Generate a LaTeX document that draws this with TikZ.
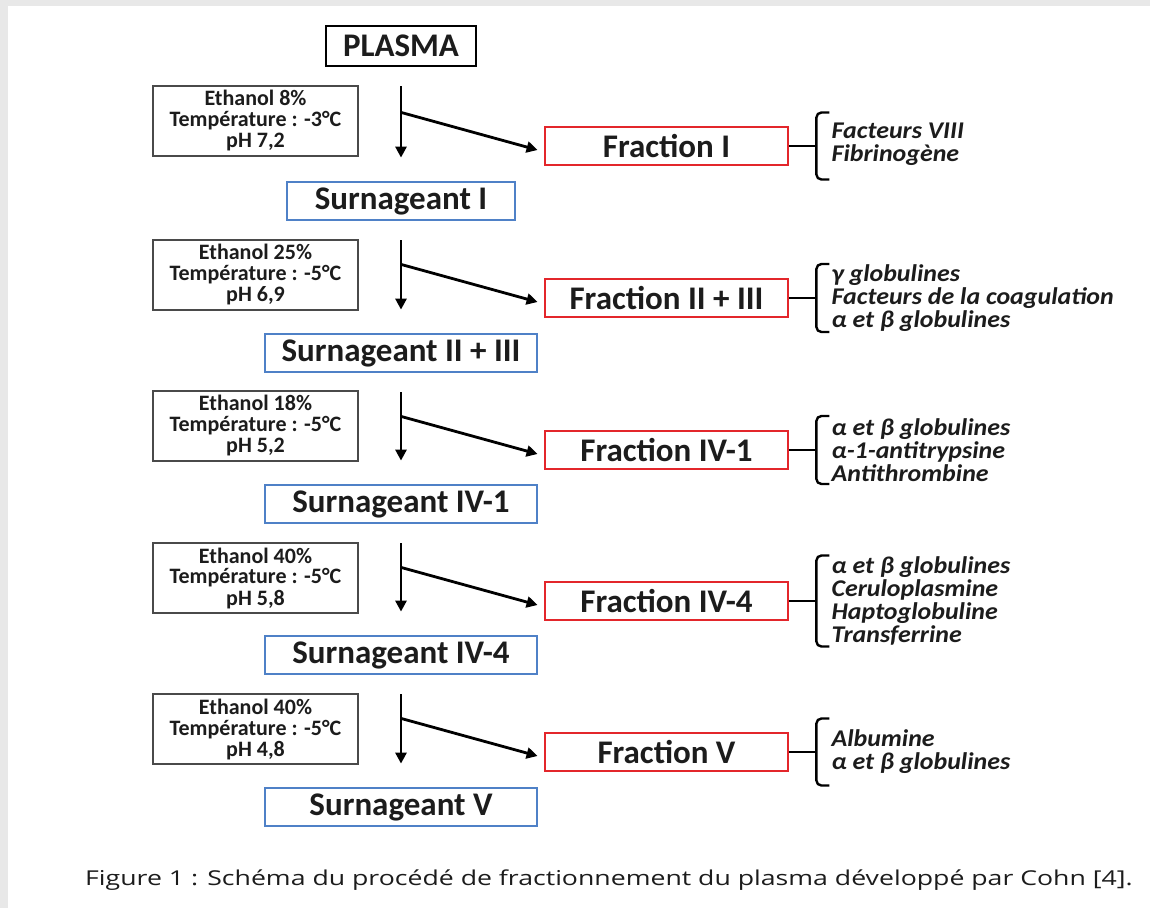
\documentclass[tikz,border=0pt]{standalone}
\usepackage{fontspec}
\setmainfont{Carlito}
\newfontfamily\capfont[FakeStretch=1.3]{Open Sans}
\newfontfamily\listfont[FakeStretch=1.08]{Carlito}
\usetikzlibrary{arrows.meta,calc}

\definecolor{fracred}{HTML}{E3262B}
\definecolor{surnblue}{HTML}{4F81C7}
\definecolor{condgrey}{HTML}{4A4A4A}
\definecolor{ink}{HTML}{1C1C1C}
\definecolor{pagegrey}{HTML}{E8E8E8}

% bracket gathering the proteins of a fraction: #1 fraction node, #2 suffix, #3 half height
\newcommand\fracbracket[3]{%
  \coordinate (k#2) at ($(#1.east)+(27,0)$);
  \draw[link] (#1.east) -- (k#2);
  \draw[link, rounded corners=5pt]
    ($(k#2)+(13,-#3)$) -- ($(k#2)+(0,-#3)$) -- ($(k#2)+(0,#3)$) -- ($(k#2)+(13,#3)$);
}

\begin{document}
\begin{tikzpicture}[x=1pt,y=-1pt,
  box/.style={draw, line width=2.8pt, minimum height=38pt, inner sep=0pt,
    font=\fontsize{33}{36}\selectfont\bfseries, text=ink},
  plasmabox/.style={box, draw=black, minimum width=150pt, minimum height=40pt},
  condbox/.style={draw=condgrey, line width=1.6pt, minimum width=205pt, minimum height=70pt,
    inner sep=0pt, align=center, font=\fontsize{22}{21}\selectfont\bfseries, text=ink},
  fracbox/.style={box, draw=fracred, minimum width=243pt},
  surnbox/.style={box, draw=surnblue, minimum width=272pt},
  flow/.style={line width=2.8pt, draw=black, -{Triangle[length=11pt,width=11pt]},
    shorten <=19pt, shorten >=23pt},
  branch/.style={line width=2.8pt, draw=black, -{Triangle[length=11pt,width=11pt]}},
  link/.style={line width=2.4pt, draw=black},
  list/.style={anchor=west, align=left, inner sep=0pt,
    font=\listfont\fontsize{24}{23}\selectfont\bfseries\itshape, text=ink}
]
% page
\fill[pagegrey] (0,0) rectangle (1150,908);
\fill[white] (8,6) rectangle (1150,908);
\useasboundingbox (0,0) rectangle (1150,908);

\node[plasmabox] (plasma) at (401,46) {PLASMA};

% stage 1
\node[condbox] (c1) at (255.5,121) {Ethanol 8\%\\Température : -3°C\\pH 7,2};
\node[fracbox] (f1) at (666.5,146) {Fraction I};
\node[surnbox, minimum width=228pt] (s1) at (401,201) {Surnageant I};
\draw[flow] (plasma.south) -- (s1.north);
\coordinate (b1) at ($(plasma.south)+(0,45)$);
\draw[branch] (b1) -- ([xshift=-6pt,yshift=-4pt]f1.west);
\fracbracket{f1}{1}{33.5}
\node[list] (l1) at ($(k1)+(15,-2)$) {Facteurs VIII\\Fibrinogène};

% stage 2
\node[condbox] (c2) at (255.5,275) {Ethanol 25\%\\Température : -5°C\\pH 6,9};
\node[fracbox] (f2) at (666.5,298) {Fraction II + III};
\node[surnbox] (s2) at (401,353) {Surnageant II + III};
\draw[flow] (s1.south) -- (s2.north);
\coordinate (b2) at ($(s1.south)+(0,43)$);
\draw[branch] (b2) -- ([xshift=-6pt,yshift=-4pt]f2.west);
\fracbracket{f2}{2}{34}
\node[list] (l2) at ($(k2)+(15,0)$) {γ globulines\\Facteurs de la coagulation\\α et β globulines};

% stage 3
\node[condbox] (c3) at (255.5,426) {Ethanol 18\%\\Température : -5°C\\pH 5,2};
\node[fracbox] (f3) at (666.5,450) {Fraction IV-1};
\node[surnbox] (s3) at (401,504) {Surnageant IV-1};
\draw[flow] (s2.south) -- (s3.north);
\coordinate (b3) at ($(s2.south)+(0,43)$);
\draw[branch] (b3) -- ([xshift=-6pt,yshift=-4pt]f3.west);
\fracbracket{f3}{3}{34}
\node[list] (l3) at ($(k3)+(15,0)$) {α et β globulines\\α-1-antitrypsine\\Antithrombine};

% stage 4
\node[condbox] (c4) at (255.5,578) {Ethanol 40\%\\Température : -5°C\\pH 5,8};
\node[fracbox] (f4) at (666.5,601) {Fraction IV-4};
\node[surnbox] (s4) at (401,655) {Surnageant IV-4};
\draw[flow] (s3.south) -- (s4.north);
\coordinate (b4) at ($(s3.south)+(0,43)$);
\draw[branch] (b4) -- ([xshift=-6pt,yshift=-4pt]f4.west);
\fracbracket{f4}{4}{45.5}
\node[list] (l4) at ($(k4)+(15,0)$) {α et β globulines\\Ceruloplasmine\\Haptoglobuline\\Transferrine};

% stage 5
\node[condbox] (c5) at (255.5,729) {Ethanol 40\%\\Température : -5°C\\pH 4,8};
\node[fracbox] (f5) at (666.5,752) {Fraction V};
\node[surnbox] (s5) at (401,807) {Surnageant V};
\draw[flow] (s4.south) -- (s5.north);
\coordinate (b5) at ($(s4.south)+(0,43)$);
\draw[branch] (b5) -- ([xshift=-6pt,yshift=-4pt]f5.west);
\fracbracket{f5}{5}{33.5}
\node[list] (l5) at ($(k5)+(15,0)$) {Albumine\\α et β globulines};

% caption
\node[anchor=west, inner sep=0pt, font=\capfont\fontsize{20.5}{26}\selectfont, text=ink] (cap)
  at (85,880) {Figure 1 : Schéma du procédé de fractionnement du plasma développé par Cohn [4].};
\end{tikzpicture}
\end{document}
